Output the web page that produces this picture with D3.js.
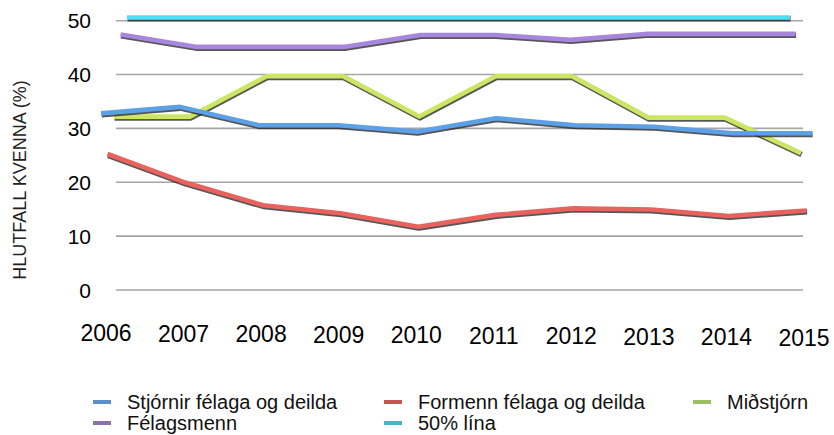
<!DOCTYPE html>
<html>
<head>
<meta charset="utf-8">
<script src="https://cdnjs.cloudflare.com/ajax/libs/d3/7.8.5/d3.min.js"></script>
<style>
  body { margin: 0; background: #ffffff; }
  svg { display: block; font-family: "Liberation Sans", Arial, sans-serif; }
</style>
</head>
<body>
<script>

// years on the x-axis
var years = ["2006", "2007", "2008", "2009", "2010", "2011", "2012", "2013", "2014", "2015"];

// series names (legend order)
var seriesNames = ["Stjórnir félaga og deilda", "Formenn félaga og deilda", "Miðstjórn", "Félagsmenn", "50% lína"];

// share of women (%) per series
var stjornir  = [32.8, 34.0, 30.6, 30.6, 29.4, 31.9, 30.6, 30.3, 29.1, 29.1];
var formenn   = [25.1, 19.8, 15.6, 14.1, 11.6, 13.8, 15.0, 14.8, 13.6, 14.6];
var midstjorn = [31.9, 31.9, 39.4, 39.4, 31.9, 39.4, 39.4, 31.7, 31.7, 25.1];
var felagsmenn = [47.0, 44.7, 44.7, 44.7, 46.9, 46.9, 46.0, 47.1, 47.1, 47.1];
var fimmtiu   = [50, 50, 50, 50, 50, 50, 50, 50, 50, 50];

// y-axis ticks
var yTicks = [0, 10, 20, 30, 40, 50];

window.onload = function() {
	drawChart();
};

function drawChart() {

	var width = 834, height = 435;

	var svg = d3.select("body")
				.append("svg")
				.attr("width", width)
				.attr("height", height);

	var allSeries = [stjornir, formenn, midstjorn, felagsmenn, fimmtiu];

	// line colours (glossy 3d look) and legend swatch colours
	var lineColors = ["#5ca1e8", "#ea625e", "#cbe660", "#a886dd", "#4ddff3"];
	var legendColors = ["#5b8fcb", "#c9534f", "#9dbf5e", "#8a71b0", "#4fb0cb"];

	// y scale
	var yScale = d3.scaleLinear()
					.domain([0, 50])
					.range([290, 20.7]);

	// x scale for the labels
	var xLabels = d3.scalePoint()
					.domain(years)
					.range([106, 804]);

	// gridlines
	svg.selectAll(".grid")
	   .data(yTicks)
	   .enter()
	   .append("line")
	   .attr("class", "grid")
	   .attr("x1", 116)
	   .attr("x2", 803)
	   .attr("y1", function(d){ return yScale(d); })
	   .attr("y2", function(d){ return yScale(d); })
	   .style("stroke", "#a6a6a6")
	   .style("stroke-width", 1.6);

	// y tick labels
	svg.selectAll(".ylab")
	   .data(yTicks)
	   .enter()
	   .append("text")
	   .attr("class", "ylab")
	   .attr("x", 91)
	   .attr("y", function(d){ return yScale(d); })
	   .attr("dy", "0.36em")
	   .style("text-anchor", "end")
	   .style("font-size", "21px")
	   .style("fill", "#000")
	   .text(function(d){ return d; });

	// x tick labels, drifting down a little to the right (perspective)
	svg.selectAll(".xlab")
	   .data(years)
	   .enter()
	   .append("text")
	   .attr("class", "xlab")
	   .attr("x", function(d){ return xLabels(d); })
	   .attr("y", function(d, i){ return 341 + i * 0.5; })
	   .style("text-anchor", "middle")
	   .style("font-size", "23px")
	   .style("fill", "#000")
	   .text(function(d){ return d; });

	// y-axis title
	svg.append("text")
	   .attr("transform", "translate(26,180) rotate(-90)")
	   .style("text-anchor", "middle")
	   .style("font-size", "18px")
	   .style("fill", "#222")
	   .text("HLUTFALL KVENNA (%)");

	// draw series back to front; each one sits a bit deeper in the 3d box
	for (var s = allSeries.length - 1; s >= 0; s--) {
		var depth = s;
		var xScale = d3.scalePoint()
						.domain(years)
						.range([101 + 6.5 * depth, 812 - 5.5 * depth]);
		var lift = -0.8 * depth;

		var line = d3.line()
					 .x(function(d, i){ return xScale(years[i]); })
					 .y(function(d){ return yScale(d) + lift; });

		// dark edge underneath
		svg.append("path")
		   .datum(allSeries[s])
		   .attr("d", line)
		   .attr("transform", "translate(0.6,1.3)")
		   .style("fill", "none")
		   .style("stroke", "#1e1e1e")
		   .style("stroke-opacity", 0.75)
		   .style("stroke-width", 5.5)
		   .style("stroke-linejoin", "round");

		// coloured tube
		svg.append("path")
		   .datum(allSeries[s])
		   .attr("d", line)
		   .style("fill", "none")
		   .style("stroke", lineColors[s])
		   .style("stroke-width", 4.6)
		   .style("stroke-linejoin", "round");
	}

	// legend, three columns
	var colX = [93, 384, 693];
	var legend = svg.selectAll(".legend")
					.data(seriesNames)
					.enter()
					.append("g")
					.attr("class", "legend")
					.attr("transform", function(d, i){
						return "translate(" + colX[i % 3] + "," + (402 + Math.floor(i / 3) * 21) + ")";
					});

	legend.append("rect")
		  .attr("x", 0)
		  .attr("y", -2)
		  .attr("width", 18)
		  .attr("height", 4)
		  .style("fill", function(d, i){ return legendColors[i]; });

	legend.append("text")
		  .attr("x", 34)
		  .attr("y", 0)
		  .attr("dy", "0.35em")
		  .style("font-size", "20px")
		  .style("fill", "#111")
		  .text(function(d){ return d; });
}
</script>
</body>
</html>
